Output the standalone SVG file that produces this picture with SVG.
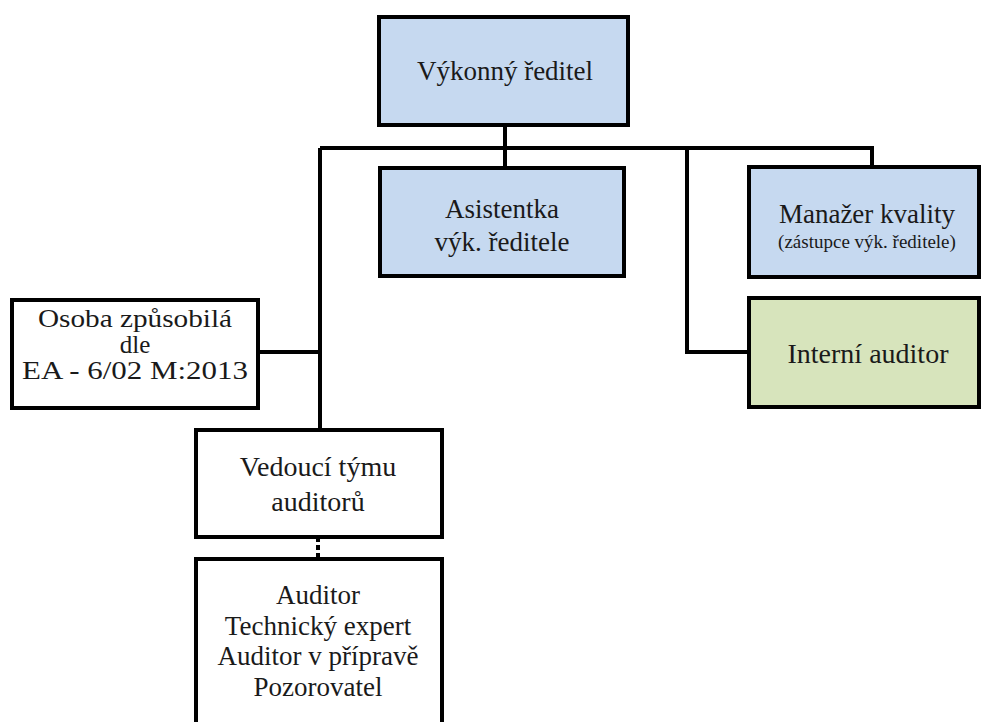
<svg xmlns="http://www.w3.org/2000/svg" width="982" height="722" viewBox="0 0 982 722">
<style>
.box{stroke:#000;stroke-width:4}
.blue{fill:#c6d9f0}
.green{fill:#d7e4bc}
.white{fill:#fff}
.t{font-family:"Liberation Serif","DejaVu Serif",serif;font-size:27px;fill:#1a1a1a;text-anchor:middle}
.s{font-size:19px}
.m{font-size:28px}
.o{font-size:25px}
.c{fill:none;stroke:#000;stroke-width:4}
</style>
<rect width="982" height="722" fill="#fff"/>
<g id="connectors">
<path class="c" d="M505 125V148M320 148H872V167M505 148V168M320 148V430M687 148V352H749M258 352H320"/>
<path class="c" d="M318 537V559" stroke-dasharray="5,3"/>
</g>
<g id="vykonny">
<rect class="box blue" x="379" y="17" width="249" height="108"/>
<text class="t" x="505" y="80">Výkonný ředitel</text>
</g>
<g id="asistentka">
<rect class="box blue" x="380" y="168" width="244" height="108"/>
<text class="t" x="502" y="218">Asistentka</text>
<text class="t" x="502" y="251">výk. ředitele</text>
</g>
<g id="manazer">
<rect class="box blue" x="749" y="167" width="230" height="110"/>
<text class="t" x="867" y="223">Manažer kvality</text>
<text class="t s" x="867" y="248">(zástupce výk. ředitele)</text>
</g>
<g id="interni">
<rect class="box green" x="749" y="298" width="230" height="109"/>
<text class="t m" x="868" y="363">Interní auditor</text>
</g>
<g id="osoba">
<rect class="box white" x="12" y="300" width="246" height="108"/>
<text class="t o" x="135" y="327" textLength="194" lengthAdjust="spacingAndGlyphs">Osoba způsobilá</text>
<text class="t o" x="135" y="353">dle</text>
<text class="t o" x="135" y="379" textLength="226" lengthAdjust="spacingAndGlyphs">EA - 6/02 M:2013</text>
</g>
<g id="vedouci">
<rect class="box white" x="196" y="430" width="246" height="107"/>
<text class="t m" x="318" y="476">Vedoucí týmu</text>
<text class="t m" x="318" y="511">auditorů</text>
</g>
<g id="auditor">
<rect class="box white" x="196" y="559" width="246" height="175"/>
<text class="t" x="318" y="604">Auditor</text>
<text class="t" x="318" y="635">Technický expert</text>
<text class="t" x="318" y="665">Auditor v přípravě</text>
<text class="t" x="318" y="696">Pozorovatel</text>
</g>
</svg>
